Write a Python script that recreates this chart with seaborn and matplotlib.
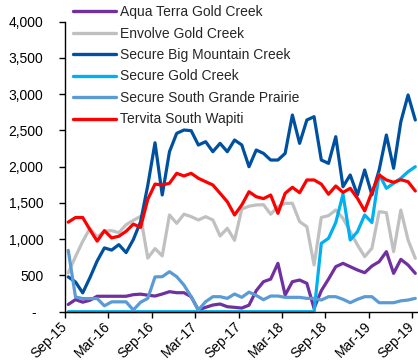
import numpy as np
import pandas as pd
import matplotlib
matplotlib.use("Agg")
import matplotlib.pyplot as plt
from matplotlib.lines import Line2D
from matplotlib.transforms import ScaledTranslation
import seaborn as sns

# ---- data (monthly, Sep-15 .. Sep-19) ----
months = pd.date_range("2015-09-01", periods=49, freq="MS").strftime("%b-%y").tolist()
tick_labels = ["Sep-15", "Mar-16", "Sep-16", "Mar-17", "Sep-17", "Mar-18", "Sep-18", "Mar-19", "Sep-19"]
series_names = ["Aqua Terra Gold Creek", "Envolve Gold Creek", "Secure Big Mountain Creek",
                "Secure Gold Creek", "Secure South Grande Prairie", "Tervita South Wapiti"]

aqua_terra_gold_creek = [100, 167, 131, 158, 213, 213, 213, 213, 213, 235, 242, 228, 216, 244, 276, 262, 262,
                         207, 23, 60, 92, 106, 69, 60, 50, 90, 290, 414, 450, 667, 230, 414, 437, 391, 46,
                         290, 450, 621, 667, 621, 575, 538, 630, 690, 828, 529, 722, 644, 529]
envolve_gold_creek = [536, 760, 970, 1150, 1030, 1110, 1118, 1090, 1200, 1260, 1315, 740, 870, 770, 1334,
                      1219, 1345, 1311, 1265, 1311, 1265, 1045, 1150, 985, 1415, 1455, 1472, 1476, 1345, 1450,
                      1495, 1495, 1242, 1173, 644, 1300, 1325, 1403, 1288, 1104, 920, 759, 874, 1380, 1366,
                      828, 1403, 989, 736]
secure_big_mountain_creek = [480, 410, 260, 470, 700, 880, 850, 925, 815, 995, 1240, 1742, 2330, 1610, 2207,
                             2460, 2506, 2497, 2299, 2345, 2207, 2322, 2207, 2368, 2300, 2000, 2230, 2184,
                             2092, 2092, 2184, 2713, 2322, 2644, 2690, 2092, 2046, 2414, 1724, 1886, 1610,
                             1955, 1610, 1955, 2437, 1978, 2621, 2989, 2644]
secure_gold_creek = [0] * 35 + [943, 1012, 1230, 1620, 989, 1104, 1334, 1230, 1897, 1702, 1771, 1840, 1931, 2000]
secure_south_grande_prairie = [846, 204, 181, 181, 181, 81, 136, 136, 136, 23, 130, 184, 480, 483, 552, 483,
                               368, 207, 23, 138, 207, 207, 184, 244, 198, 270, 225, 166, 216, 216, 198, 198,
                               198, 184, 184, 161, 207, 207, 171, 124, 171, 207, 207, 124, 124, 124, 150, 161, 184]
tervita_south_wapiti = [1235, 1299, 1299, 1131, 973, 1118, 1018, 1041, 1109, 1208, 1163, 1550, 1760, 1748, 1771,
                        1909, 1872, 1909, 1840, 1793, 1748, 1633, 1517, 1334, 1472, 1655, 1586, 1560, 1609, 1357,
                        1633, 1716, 1641, 1817, 1817, 1760, 1620, 1734, 1645, 1702, 1564, 1390, 1650, 1886, 1817,
                        1785, 1820, 1793, 1665]

colors = ["#7030A0", "#C0C0C0", "#0050A0", "#00B0F0", "#5B9BD5", "#FF0000"]

values = [aqua_terra_gold_creek, envolve_gold_creek, secure_big_mountain_creek,
          secure_gold_creek, secure_south_grande_prairie, tervita_south_wapiti]

rows = []
for name, vals in zip(series_names, values):
    for i, (m, v) in enumerate(zip(months, vals)):
        rows.append({"series": name, "month": m, "pos": i + 0.45, "value": v})
df = pd.DataFrame(rows)

# ---- style ----
sns.set_style("white")
plt.rcParams["font.family"] = ["Liberation Sans", "DejaVu Sans"]
plt.rcParams["font.size"] = 10

W, H = 418, 360
fig = plt.figure(figsize=(W / 100, H / 100), dpi=100)
x0, y_zero, y_top = 65.0, 311.7, 21.7
ax = fig.add_axes([x0 / W, (H - y_zero) / H, (W - x0) / W, (y_zero - y_top) / H])

palette = dict(zip(series_names, colors))
sns.lineplot(data=df, x="pos", y="value", hue="series", hue_order=series_names,
             palette=palette, linewidth=2.3, sort=False, legend=False, ax=ax)
for ln in ax.lines:
    ln.set_clip_on(False)
    ln.set_solid_joinstyle("round")

px_per_month = 7.23
ax.set_xlim(0, (W - x0) / px_per_month)
ax.set_ylim(0, 4000)

ax.set_xticks(np.arange(0, 49, 6))
ax.set_xticklabels(tick_labels)
yt = np.arange(0, 4001, 500)
ax.set_yticks(yt)
ax.set_yticklabels(["-" if v == 0 else f"{v:,}" for v in yt])
ax.set_xlabel("")
ax.set_ylabel("")

for s in ["top", "right"]:
    ax.spines[s].set_visible(False)
for s in ["left", "bottom"]:
    ax.spines[s].set_color("black")
    ax.spines[s].set_linewidth(1.0)

ax.tick_params(axis="y", direction="out", length=4, width=1, pad=11.5, left=True, colors="black", labelsize=10)
ax.tick_params(axis="x", direction="out", length=4, width=1, pad=5, bottom=True, colors="black", labelsize=10)
for lbl in ax.get_xticklabels():
    lbl.set_rotation(45)
    lbl.set_rotation_mode("anchor")
    lbl.set_ha("right")
    lbl.set_va("center")

zero_lbl = ax.get_yticklabels()[0]
zero_lbl.set_transform(zero_lbl.get_transform() + ScaledTranslation(-7 / 100, 0, fig.dpi_scale_trans))

handles = [Line2D([0], [0], color=c, lw=2.4) for c in colors]
ax.legend(handles, series_names, loc="upper left", bbox_to_anchor=(72.7 / W, 1 - 5 / H),
          bbox_transform=fig.transFigure, frameon=False, handlelength=3.15, handletextpad=0.25,
          labelspacing=0.54, borderpad=0, borderaxespad=0, fontsize=10)

fig.savefig("out.png", dpi=100)
